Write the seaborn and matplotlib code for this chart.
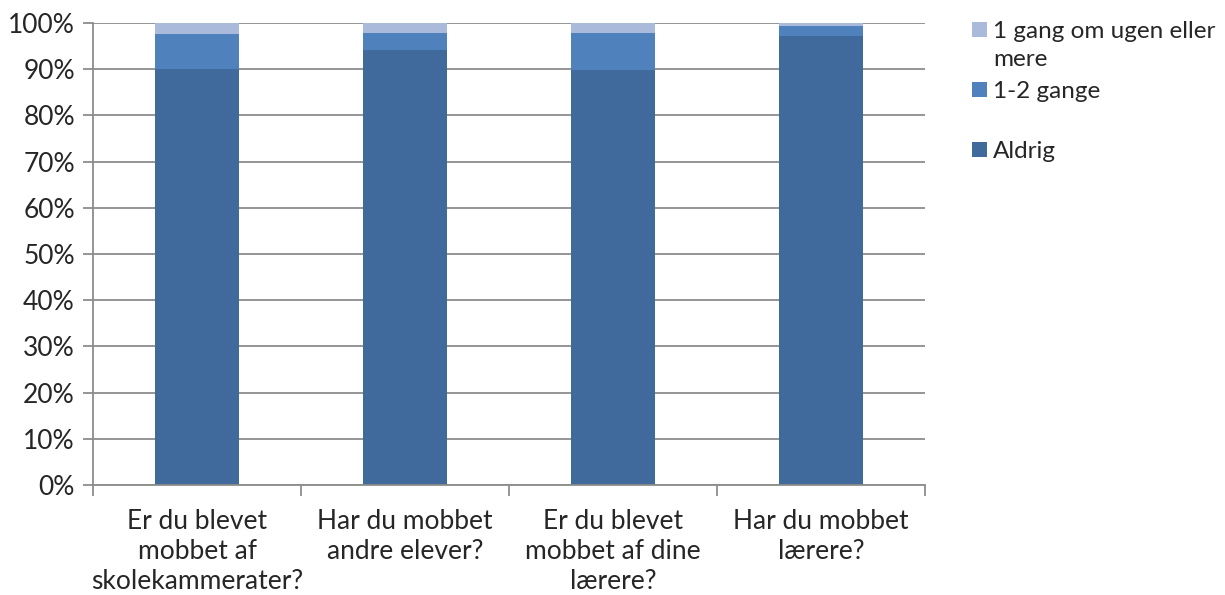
import numpy as np
import pandas as pd
import matplotlib
matplotlib.use("Agg")
import matplotlib.pyplot as plt
from matplotlib.patches import Rectangle
from matplotlib.ticker import PercentFormatter
import seaborn as sns

categories = ["Er du blevet\nmobbet af\nskolekammerater?",
              "Har du mobbet\nandre elever?",
              "Er du blevet\nmobbet af dine\nlærere?",
              "Har du mobbet\nlærere?"]
aldrig = [90.0, 94.1, 89.8, 97.1]
gange_1_2 = [7.6, 3.8, 8.0, 2.3]
ugentlig = [2.4, 2.1, 2.2, 0.6]
series_names = ["1 gang om ugen eller\nmere", "1-2 gange", "Aldrig"]
colors = ["#A9BADB", "#4F81BD", "#3F6A9B"]

sns.set_style("white")
plt.rcParams['font.family'] = ['Lato', 'DejaVu Sans']
FS = 19

df = pd.DataFrame({"cat": categories, "Aldrig": aldrig,
                   "g12": gange_1_2, "uge": ugentlig})
df["c1"] = df["Aldrig"]
df["c2"] = df["Aldrig"] + df["g12"]
df["c3"] = df["c2"] + df["uge"]

fig = plt.figure(figsize=(12.25, 5.95), dpi=100)
ax = fig.add_axes([93/1225, 1 - 485/595, (925-93)/1225, (485-23)/595])

ax.yaxis.grid(True, color="#8C8C8C", linewidth=1.3, zorder=0)
ax.set_axisbelow(True)
for col, c in [("c3", colors[0]), ("c2", colors[1]), ("c1", colors[2])]:
    sns.barplot(data=df, x="cat", y=col, color=c, saturation=1, width=0.4,
                ax=ax, zorder=2, linewidth=0)

ax.set_ylim(0, 100)
ax.set_xlim(-0.5, 3.5)
ax.set_yticks(np.arange(0, 101, 10))
ax.yaxis.set_major_formatter(PercentFormatter(decimals=0))
ax.set_xlabel("")
ax.set_ylabel("")
for s in ["top", "right"]:
    ax.spines[s].set_visible(False)
for s in ["left", "bottom"]:
    ax.spines[s].set_color("#8C8C8C")
    ax.spines[s].set_linewidth(1.3)
ax.tick_params(axis="y", length=7, width=1.3, color="#8C8C8C", labelsize=FS, pad=6, left=True)
ax.tick_params(axis="x", length=0, labelsize=FS, pad=17)
ax.set_xticks(range(len(categories)))
ax.set_xticklabels(categories, linespacing=1.25)
ax.set_xticks(np.arange(-0.5, 3.6, 1), minor=True)
ax.tick_params(axis="x", which="minor", length=8, width=1.3, color="#8C8C8C", bottom=True)

# legend
ys = [30, 90, 150]
for name, c, y in zip(series_names, colors, ys):
    fig.patches.append(Rectangle((972/1225, 1 - (y + 7)/595), 15/1225, 15/595,
                                 transform=fig.transFigure, facecolor=c,
                                 edgecolor="none"))
    lines = name.split("\n")
    for i, ln in enumerate(lines):
        fig.text(993/1225, 1 - (y + 28*i)/595, ln, fontsize=17.5, va="center_baseline",
                 ha="left")

fig.savefig("out.png", dpi=100)
